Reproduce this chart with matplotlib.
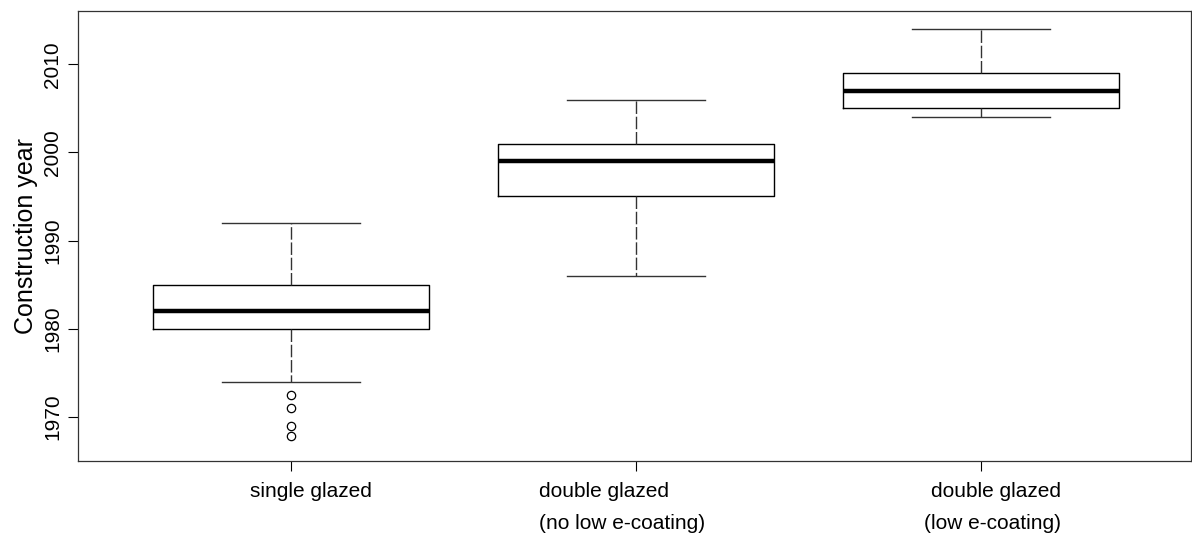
import matplotlib
matplotlib.use("Agg")
import matplotlib.pyplot as plt
from matplotlib.transforms import ScaledTranslation

plt.rcParams['font.family'] = ['Liberation Sans', 'DejaVu Sans']

# Glazing categories and read-off box summaries (construction year)
categories = ["single glazed", "double glazed\n(no low e-coating)", "double glazed\n(low e-coating)"]
whisker_low = [1974, 1986, 2004]
q1 = [1980, 1995, 2005]
medians = [1982, 1999, 2007]
q3 = [1985, 2001, 2009]
whisker_high = [1992, 2006, 2014]
outliers = [[1972.5, 1971, 1969, 1967.8], [], []]

stats = []
for i in range(len(categories)):
    stats.append({
        "whislo": whisker_low[i], "q1": q1[i], "med": medians[i],
        "q3": q3[i], "whishi": whisker_high[i], "fliers": outliers[i],
    })

fig = plt.figure(figsize=(11.92, 5.42), dpi=100)
ax = fig.add_axes([0.0652, 0.1494, 0.934, 0.8297])

positions = [1, 2, 3]
ax.bxp(stats, positions=positions, widths=0.8, capwidths=0.4,
       boxprops=dict(color='black', linewidth=1.0),
       medianprops=dict(color='black', linewidth=3.2, solid_capstyle='butt'),
       whiskerprops=dict(color='#333333', linewidth=1.0, linestyle=(0, (9, 2))),
       capprops=dict(color='#333333', linewidth=1.0),
       flierprops=dict(marker='o', markerfacecolor='none', markeredgecolor='black',
                       markersize=6, markeredgewidth=0.9, linestyle='none'))

ax.set_xlim(0.383, 3.61)
ax.set_ylim(1965, 2016)
ax.set_xticks(positions)
ax.set_xticklabels(categories, fontsize=15, linespacing=1.85)
ax.set_yticks([1970, 1980, 1990, 2000, 2010])
ax.set_yticklabels(["1970", "1980", "1990", "2000", "2010"], rotation=90, va='center', fontsize=15)
ax.tick_params(axis='x', length=7.2, width=0.8, pad=8)
ax.tick_params(axis='y', length=7.2, width=0.8, pad=4)
ax.set_ylabel("Construction year", fontsize=18, labelpad=4)

# label placement as in the original figure (alignment / shift in pixels)
label_align = ["center", "left", "right"]
label_shift = [20, -97, 80]
for lab, ha, dx in zip(ax.get_xticklabels(), label_align, label_shift):
    lab.set_horizontalalignment(ha)
    lab.set_multialignment(ha)
    lab.set_transform(lab.get_transform() + ScaledTranslation(dx / 100, 0, fig.dpi_scale_trans))

for sp in ax.spines.values():
    sp.set_linewidth(0.9)
    sp.set_color('#333333')

fig.savefig("out.png", dpi=100)
